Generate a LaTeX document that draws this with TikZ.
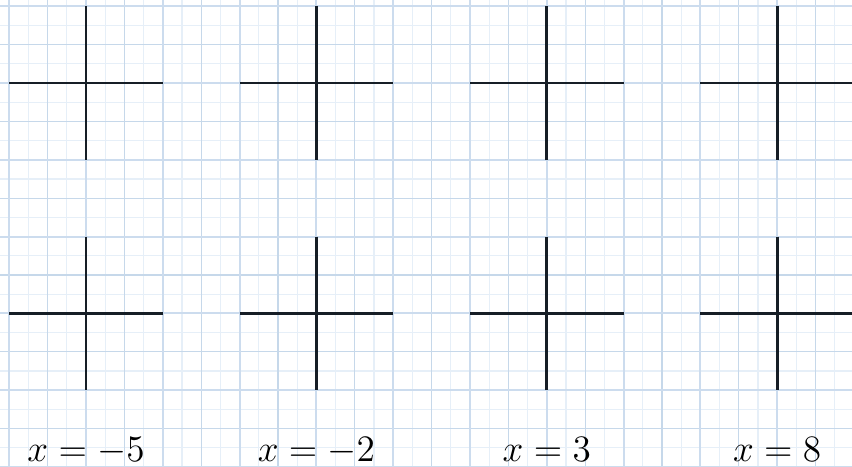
\documentclass[tikz,border=0pt]{standalone}
\definecolor{gridminor}{RGB}{230,239,248}
\definecolor{gridmid}{RGB}{198,216,234}
\definecolor{gridmajor}{RGB}{204,220,238}
\definecolor{axisink}{RGB}{22,30,38}
\tikzset{
  minorgrid/.style={gridminor, line width=0.4pt},
  midgrid/.style={gridmid, line width=0.4pt},
  majorgrid/.style={gridmajor, line width=0.8pt},
  axisline/.style={axisink, line width=1pt},
  xlabel/.style={anchor=base, inner sep=0pt, font=\Large, scale=0.96, transform shape},
}
\begin{document}
\begin{tikzpicture}
\useasboundingbox (-1.120,-5.0) rectangle (9.974,1.081);
\clip (-1.120,-5.0) rectangle (9.974,1.081);
\fill[white] (-1.120,-5.0) rectangle (9.974,1.081);
\draw[minorgrid] (-1.5,-5.5) grid[step=0.25] (10.5,1.5);
\draw[midgrid] (-1.5,-5.5) grid[step=0.5] (10.5,1.5);
\draw[majorgrid] (-1.5,-5.5) grid[step=1] (10.5,1.5);
\foreach \x/\lab [count=\i] in {0/-5,3/-2,6/3,9/8} {
  \foreach \y [count=\j] in {0,-3} {
    \coordinate (w\i\j) at (\x-1,\y);
    \coordinate (e\i\j) at (\x+1,\y);
    \coordinate (n\i\j) at (\x,\y+1);
    \coordinate (s\i\j) at (\x,\y-1);
    \draw[axisline] (w\i\j) -- (e\i\j);
    \draw[axisline] (n\i\j) -- (s\i\j);
  }
  \node[xlabel] (lab\i) at (\x,-4.93) {$x=\lab$};
}
\end{tikzpicture}
\end{document}
